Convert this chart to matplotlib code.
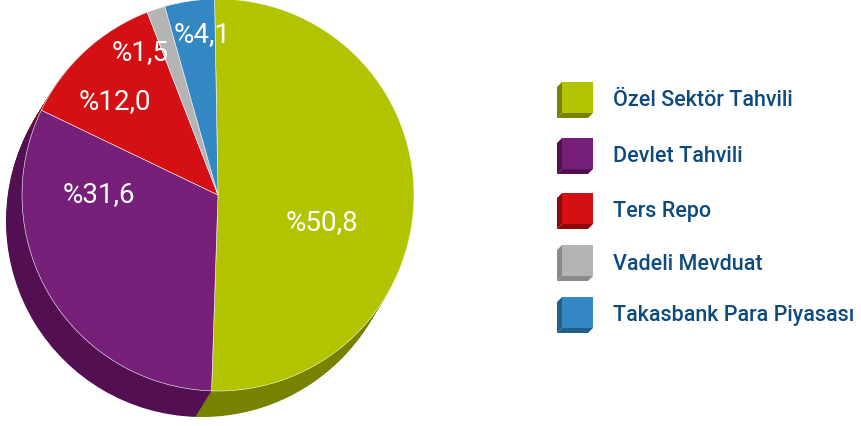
import numpy as np
import matplotlib.pyplot as plt
from matplotlib.patches import Polygon

# data
labels = ['Özel Sektör Tahvili', 'Devlet Tahvili', 'Ters Repo',
          'Vadeli Mevduat', 'Takasbank Para Piyasası']
values = [50.8, 31.6, 12.0, 1.5, 4.1]
value_texts = ['%50,8', '%31,6', '%12,0', '%1,5', '%4,1']

colors_top = ['#b2c400', '#76207a', '#d51014', '#b4b4b4', '#3387c2']
colors_side = ['#778200', '#521052', '#8c0a0c', '#8a8a8a', '#245e8a']

W, H = 862, 427
fig = plt.figure(figsize=(W / 100, H / 100), dpi=100)
ax = fig.add_axes([0, 0, 1, 1])

cx, cy, r = 218, H - 196, 196
dx, dy = -16, -26
start = 91

# extruded side of the pie
n = 40
for k in range(n, 0, -1):
    f = k / n
    ax.pie(values, colors=colors_side, startangle=start, counterclock=False,
           radius=r, center=(cx + dx * f, cy + dy * f),
           wedgeprops=dict(linewidth=0))

# top face
ax.pie(values, colors=colors_top, startangle=start, counterclock=False,
       radius=r, center=(cx, cy),
       wedgeprops=dict(edgecolor='white', linewidth=0.4))

# percentage labels
label_pos = [(322, 223), (99, 195), (115, 102), (140, 53), (202, 35)]
for (x, y), t in zip(label_pos, value_texts):
    ax.text(x, H - y, t, color='white', fontsize=20, family='Roboto',
            ha='center', va='center')

# legend with bevelled boxes
row_y = [101, 157, 212, 264, 316]
for yc, lab, ct, cs in zip(row_y, labels, colors_top, colors_side):
    top, bot = H - (yc - 18), H - (yc + 18)
    left, right = 557, 593
    b = 5
    ax.add_patch(Polygon([(left, top - b), (left + b, top), (left + b, bot + b),
                          (left, bot)], closed=True, fc=cs, ec='none'))
    ax.add_patch(Polygon([(left, bot), (left + b, bot + b), (right, bot + b),
                          (right - b, bot)], closed=True, fc=cs, ec='none'))
    ax.add_patch(Polygon([(left + b, top), (right, top), (right, bot + b),
                          (left + b, bot + b)], closed=True, fc=ct, ec='none'))
    ax.text(613, H - yc, lab, color='#0d4a7f', fontsize=15.5, family='Roboto',
            fontweight='medium', ha='left', va='center')

ax.set_xlim(0, W)
ax.set_ylim(0, H)
ax.set_aspect('equal')
ax.axis('off')

fig.savefig('out.png', dpi=100)
